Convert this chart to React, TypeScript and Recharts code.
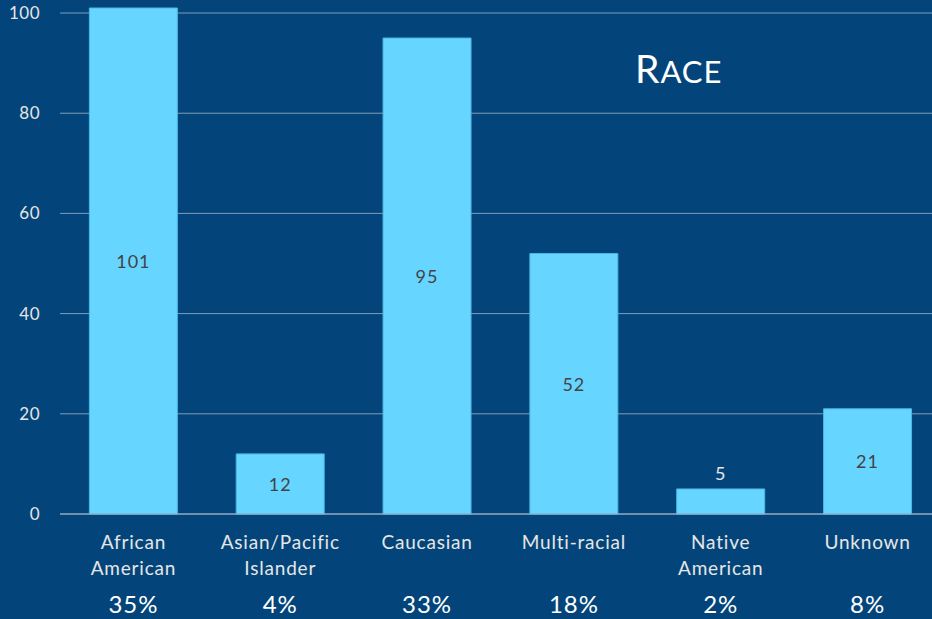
import { BarChart, Bar, XAxis, YAxis, CartesianGrid, LabelList } from "recharts";

const categories = [
  "African American",
  "Asian/Pacific Islander",
  "Caucasian",
  "Multi-racial",
  "Native American",
  "Unknown",
];

const tickLines = [
  ["African", "American"],
  ["Asian/Pacific", "Islander"],
  ["Caucasian"],
  ["Multi-racial"],
  ["Native", "American"],
  ["Unknown"],
];

const counts = [101, 12, 95, 52, 5, 21];
const percents = ["35%", "4%", "33%", "18%", "2%", "8%"];
const yTicks = [0, 20, 40, 60, 80, 100];

const data = categories.map((name, i) => ({ name, count: counts[i] }));

const BG = "#03457a";
const BAR = "#66d5ff";
const GRID = "#9fb3c8";
const FONT = "Lato, 'Open Sans', sans-serif";

const CategoryTick = (props: any) => {
  const { x, y, index } = props;
  const lines = tickLines[index] ?? [];
  return (
    <g>
      {lines.map((line, i) => (
        <text
          key={line}
          x={x}
          y={y + 27 + i * 26}
          textAnchor="middle"
          fill="#e6e6e6"
          fontSize={19}
          letterSpacing={0.8}
          fontFamily={FONT}
        >
          {line}
        </text>
      ))}
      <text
        x={x}
        y={y + 91}
        textAnchor="middle"
        fill="#ffffff"
        fontSize={24}
        letterSpacing={1}
        fontFamily={FONT}
      >
        {percents[index]}
      </text>
    </g>
  );
};

const ValueLabel = (props: any) => {
  const { x, y, width, height, value } = props;
  const small = value < 10;
  return (
    <text
      x={x + width / 2}
      y={small ? y - 16 : y + height / 2}
      textAnchor="middle"
      dominantBaseline="central"
      fill={small ? "#e6e6e6" : "#444444"}
      fontSize={18}
      letterSpacing={1}
      fontFamily={FONT}
    >
      {value}
    </text>
  );
};

export default function App() {
  return (
    <div
      style={{
        position: "absolute",
        left: 0,
        top: 0,
        width: 932,
        height: 619,
        overflow: "hidden",
        background: BG,
      }}
    >
      <BarChart
        width={941}
        height={619}
        data={data}
        margin={{ top: 8, right: 0, bottom: 0, left: 0 }}
        barCategoryGap="20%"
      >
        <CartesianGrid
          horizontal
          vertical={false}
          horizontalValues={yTicks}
          syncWithTicks
          stroke={GRID}
          strokeOpacity={0.8}
        />
        <XAxis
          dataKey="name"
          height={105}
          tickLine={false}
          axisLine={{ stroke: GRID }}
          tick={<CategoryTick />}
          interval={0}
        />
        <YAxis
          width={60}
          domain={[0, 101]}
          ticks={yTicks}
          axisLine={false}
          tickLine={false}
          tickMargin={14}
          tick={{ fill: "#e6e6e6", fontSize: 17, letterSpacing: 0.5, fontFamily: FONT }}
        />
        <Bar dataKey="count" fill={BAR} stroke="#4cb6e2" strokeWidth={1} isAnimationActive={false}>
          <LabelList dataKey="count" content={<ValueLabel />} />
        </Bar>
        <text x={635} y={83} fill="#ffffff" fontFamily={FONT} letterSpacing={1}>
          <tspan fontSize={39}>R</tspan>
          <tspan fontSize={31}>ACE</tspan>
        </text>
      </BarChart>
    </div>
  );
}
